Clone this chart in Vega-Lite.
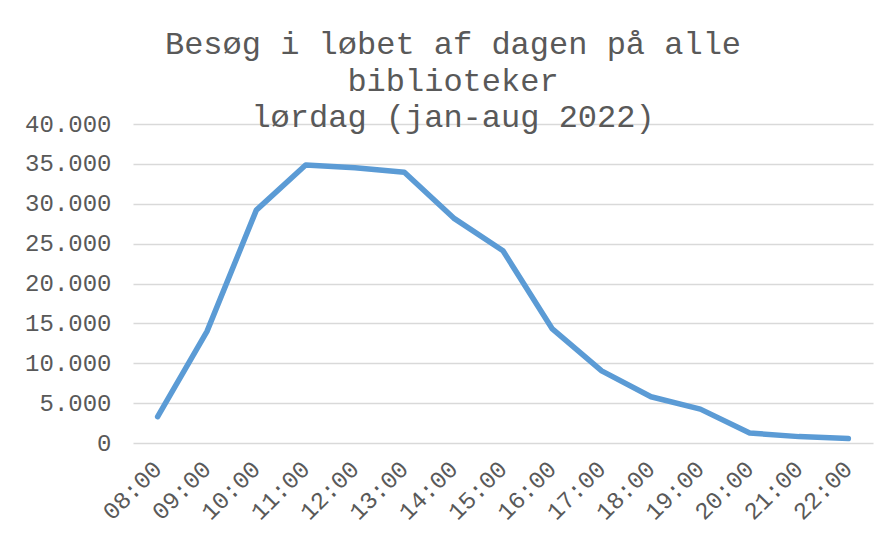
{
  "$schema": "https://vega.github.io/schema/vega-lite/v6.json",
  "width": 740,
  "height": 319,
  "autosize": {"type": "none"},
  "padding": {"left": 133, "top": 124, "right": 19, "bottom": 94},
  "background": "white",
  "title": {
    "text": ["Besøg i løbet af dagen på alle", "biblioteker", "lørdag (jan-aug 2022)"],
    "font": "Liberation Mono",
    "fontSize": 32,
    "fontWeight": "normal",
    "color": "#595959",
    "lineHeight": 36.5,
    "anchor": "middle",
    "frame": "group",
    "dx": -50,
    "baseline": "bottom",
    "offset": 0,
    "dy": 54
  },
  "data": {
    "values": [
      {"tid": "08:00", "besog": 3300},
      {"tid": "09:00", "besog": 14000},
      {"tid": "10:00", "besog": 29200},
      {"tid": "11:00", "besog": 34850},
      {"tid": "12:00", "besog": 34500},
      {"tid": "13:00", "besog": 33950},
      {"tid": "14:00", "besog": 28200},
      {"tid": "15:00", "besog": 24100},
      {"tid": "16:00", "besog": 14300},
      {"tid": "17:00", "besog": 9050},
      {"tid": "18:00", "besog": 5800},
      {"tid": "19:00", "besog": 4250},
      {"tid": "20:00", "besog": 1250},
      {"tid": "21:00", "besog": 800},
      {"tid": "22:00", "besog": 550}
    ]
  },
  "mark": {"type": "line", "color": "#5B9BD5", "strokeWidth": 5.5, "strokeCap": "round", "strokeJoin": "round"},
  "encoding": {
    "x": {
      "field": "tid",
      "type": "ordinal",
      "scale": {"type": "point", "padding": 0.5},
      "axis": {
        "title": null,
        "domain": false,
        "ticks": false,
        "labelAngle": -45,
        "labelAlign": "right",
        "labelBaseline": "middle",
        "labelPadding": 22,
        "labelFont": "Liberation Mono",
        "labelFontSize": 24,
        "labelColor": "#595959",
        "grid": false
      }
    },
    "y": {
      "field": "besog",
      "type": "quantitative",
      "scale": {"domain": [0, 40000], "nice": false},
      "axis": {
        "title": null,
        "domain": false,
        "ticks": false,
        "values": [0, 5000, 10000, 15000, 20000, 25000, 30000, 35000, 40000],
        "labelExpr": "replace(format(datum.value, ','), ',', '.')",
        "labelPadding": 22,
        "labelFont": "Liberation Mono",
        "labelFontSize": 24,
        "labelColor": "#595959",
        "gridColor": "#D9D9D9",
        "gridWidth": 1.5
      }
    }
  },
  "config": {"view": {"stroke": null}}
}
